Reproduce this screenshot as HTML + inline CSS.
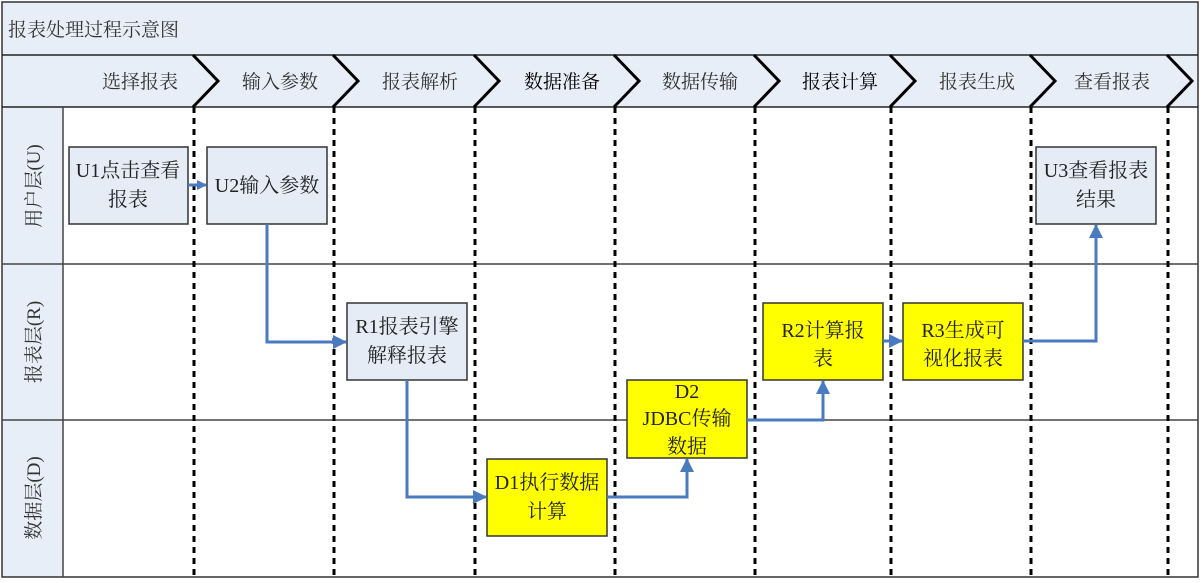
<!DOCTYPE html>
<html><head><meta charset="utf-8"><style>body{margin:0;background:#fff}svg{display:block}</style></head><body>
<svg width="1202" height="583" xmlns="http://www.w3.org/2000/svg" font-family="Liberation Serif, Noto Serif CJK SC, serif">
<defs><marker id="a" markerWidth="10" markerHeight="10" refX="9" refY="5" orient="auto" markerUnits="userSpaceOnUse" viewBox="0 0 10 10"><path d="M0,0L10,5L0,10z" fill="#4a7abf"/></marker>
<marker id="b" markerWidth="14" markerHeight="14" refX="13" refY="7" orient="auto" markerUnits="userSpaceOnUse" viewBox="0 0 14 14"><path d="M0,0L14,7L0,14z" fill="#4a7abf"/></marker></defs>
<rect x="2" y="2" width="1196" height="105" fill="#e8eef7"/>
<rect x="2" y="107" width="61" height="470" fill="#e8eef7"/>
<rect x="2" y="2" width="1196" height="575" fill="none" stroke="#333" stroke-width="1.5"/>
<line x1="2" y1="55" x2="1198" y2="55" stroke="#222" stroke-width="1.5"/>
<line x1="2" y1="107" x2="1198" y2="107" stroke="#222" stroke-width="1.5"/>
<line x1="2" y1="264" x2="1198" y2="264" stroke="#444" stroke-width="1.5"/>
<line x1="2" y1="420" x2="1198" y2="420" stroke="#444" stroke-width="1.5"/>
<line x1="63" y1="107" x2="63" y2="577" stroke="#444" stroke-width="1.5"/>
<text x="8" y="36" font-size="19" fill="#333">报表处理过程示意图</text>
<g stroke="#000" stroke-width="3" fill="none">
<path d="M193,55L218,81L193,107"/><path d="M333,55L358,81L333,107"/><path d="M474,55L499,81L474,107"/><path d="M614,55L639,81L614,107"/><path d="M754,55L779,81L754,107"/><path d="M890,55L915,81L890,107"/><path d="M1030,55L1055,81L1030,107"/><path d="M1167,55L1192,81L1167,107"/>
</g>
<g stroke="#000" stroke-width="3" stroke-dasharray="6,5">
<line x1="194" y1="107" x2="194" y2="577"/><line x1="334" y1="107" x2="334" y2="577"/><line x1="475" y1="107" x2="475" y2="577"/><line x1="615" y1="107" x2="615" y2="577"/><line x1="755" y1="107" x2="755" y2="577"/><line x1="891" y1="107" x2="891" y2="577"/><line x1="1031" y1="107" x2="1031" y2="577"/><line x1="1168" y1="107" x2="1168" y2="577"/>
</g>
<g font-size="19" fill="#333" text-anchor="middle">
<text x="140" y="88">选择报表</text><text x="280" y="88">输入参数</text><text x="420" y="88">报表解析</text><text x="562" y="88" fill="#000">数据准备</text><text x="700" y="88">数据传输</text><text x="840" y="88" fill="#000">报表计算</text><text x="977" y="88">报表生成</text><text x="1112" y="88">查看报表</text>
<text transform="translate(40,186) rotate(-90)">用户层(U)</text>
<text transform="translate(40,342) rotate(-90)">报表层(R)</text>
<text transform="translate(40,498) rotate(-90)">数据层(D)</text>
</g>
<g stroke="#333" stroke-width="1.5">
<rect x="69" y="147" width="119" height="77" fill="#e6ecf5"/>
<rect x="207" y="147" width="120" height="77" fill="#e6ecf5"/>
<rect x="1036" y="147" width="120" height="77" fill="#e6ecf5"/>
<rect x="347" y="303" width="120" height="77" fill="#e6ecf5"/>
<rect x="763" y="303" width="120" height="77" fill="#ffff00"/>
<rect x="903" y="303" width="120" height="77" fill="#ffff00"/>
<rect x="627" y="380" width="120" height="78" fill="#ffff00"/>
<rect x="487" y="459" width="120" height="77" fill="#ffff00"/>
</g>
<g font-size="20" fill="#222" text-anchor="middle">
<text x="128" y="177">U1点击查看</text><text x="128" y="206">报表</text>
<text x="267" y="192">U2输入参数</text>
<text x="1096" y="177">U3查看报表</text><text x="1096" y="206">结果</text>
<text x="407" y="333">R1报表引擎</text><text x="407" y="362">解释报表</text>
<text x="823" y="337">R2计算报</text><text x="823" y="365">表</text>
<text x="963" y="337">R3生成可</text><text x="963" y="365">视化报表</text>
<text x="687" y="398">D2</text><text x="687" y="425">JDBC传输</text><text x="687" y="453">数据</text>
<text x="547" y="489">D1执行数据</text><text x="547" y="518">计算</text>
</g>
<g stroke="#4a7abf" stroke-width="3" fill="none">
<path d="M188,185H206" marker-end="url(#a)"/>
<path d="M267,224V342H346" marker-end="url(#b)"/>
<path d="M407,380V497H486" marker-end="url(#b)"/>
<path d="M607,497H687V459" marker-end="url(#b)"/>
<path d="M747,420H823V381" marker-end="url(#b)"/>
<path d="M883,341H902" marker-end="url(#b)"/>
<path d="M1023,341H1096V225" marker-end="url(#b)"/>
</g>
</svg>
</body></html>
